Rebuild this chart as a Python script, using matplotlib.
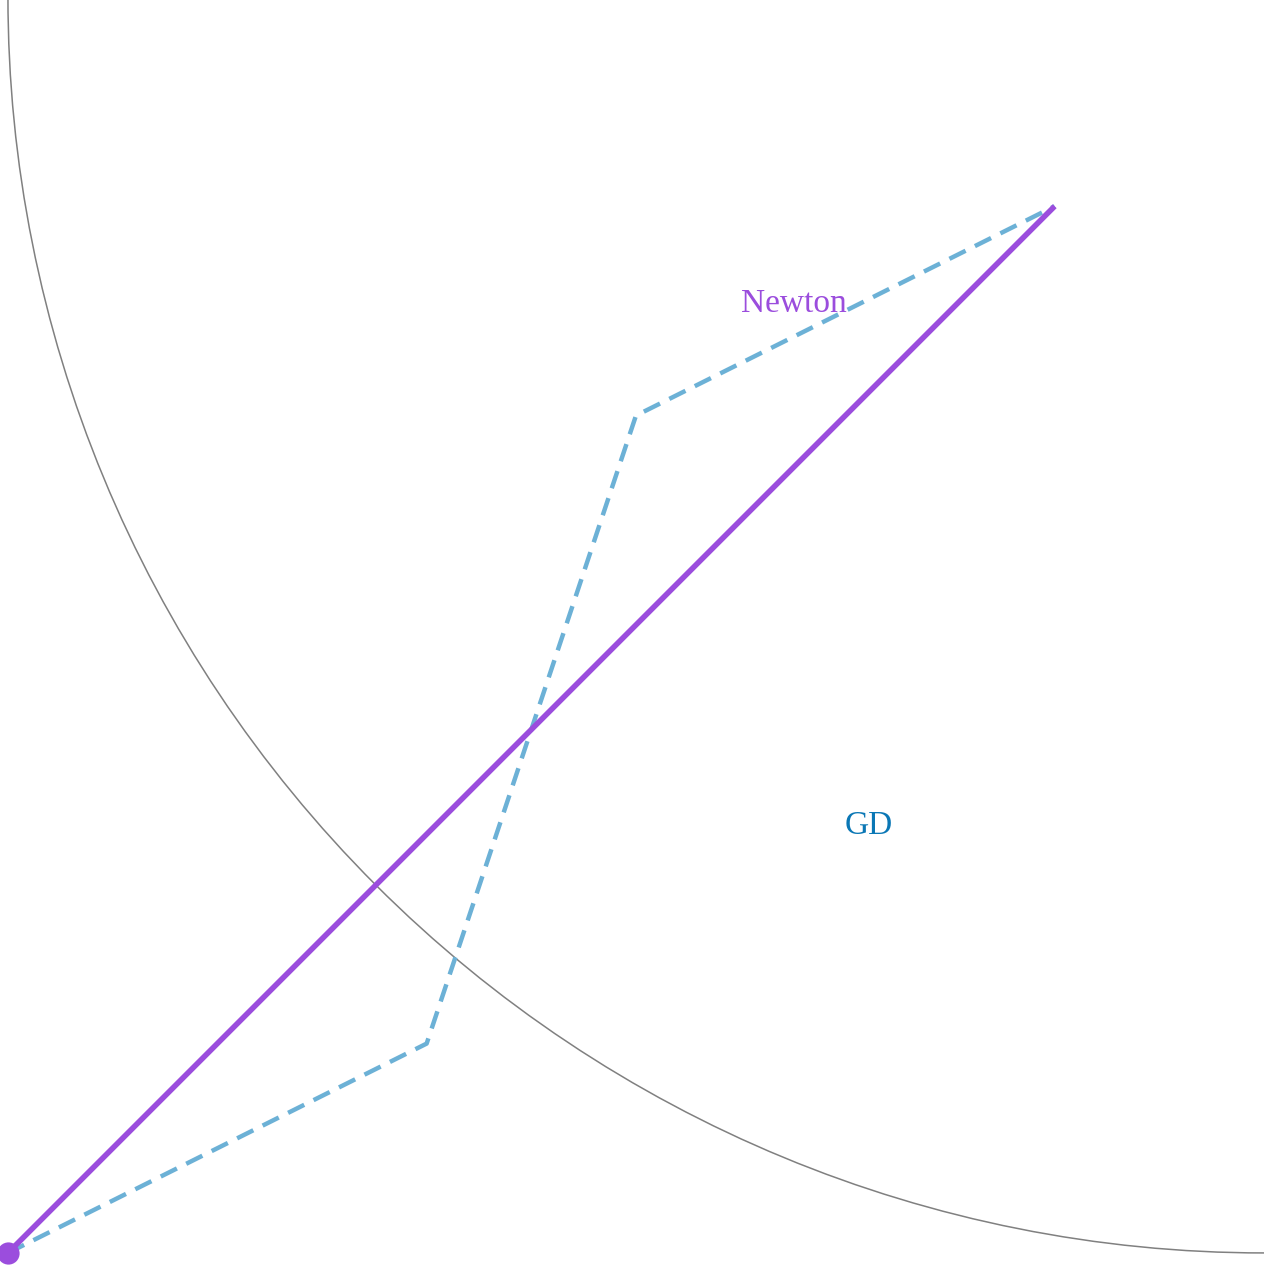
import matplotlib.pyplot as plt
from matplotlib.patches import Circle

plt.rcParams['lines.scale_dashes'] = False

# sentier de la descente de gradient (GD) et pas de Newton
gd_x = [0.0, 0.4, 0.6, 1.0]
gd_y = [0.0, 0.2, 0.8, 1.0]
newton_x = [0.0, 1.0]
newton_y = [0.0, 1.0]
depart = (0.0, 0.0)
centre_cercle = (1.2, 1.2)
rayon = 1.2

violet = '#9b4ddd'
bleu_clair = '#6cb1d6'
bleu = '#0a77b5'

fig = plt.figure(figsize=(12.64, 12.65), dpi=100)
ax = fig.add_axes([0, 0, 1, 1])

ax.add_patch(Circle(centre_cercle, rayon, fill=False, edgecolor='#808080', linewidth=1.1))
ax.plot(gd_x, gd_y, color=bleu_clair, linewidth=3.2, dashes=(13, 7.5))
ax.plot(newton_x, newton_y, color=violet, linewidth=4.0, solid_capstyle='butt')
ax.plot([depart[0]], [depart[1]], 'o', color=violet, markersize=16, markeredgewidth=0,
        clip_on=False)

ax.text(0.751, 0.907, 'Newton', color=violet, fontsize=24, family='Liberation Serif',
        ha='center', va='center')
ax.text(0.822, 0.408, 'GD', color=bleu, fontsize=24, family='Liberation Serif',
        ha='center', va='center')

ax.set_xlim(-0.0076, 1.2)
ax.set_ylim(-0.0115, 1.197)
ax.set_aspect('equal')
ax.axis('off')

fig.savefig('out.png', dpi=100)
